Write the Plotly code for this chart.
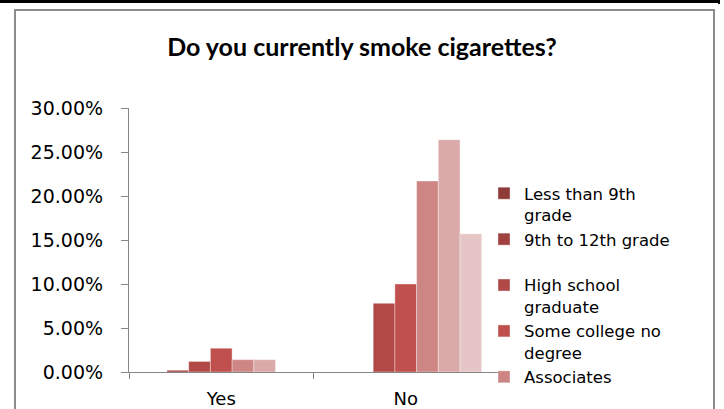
import plotly.graph_objects as go

# Survey responses by education level
categories = ["Yes", "No"]
series_names = [
    "Less than 9th grade",
    "9th to 12th grade",
    "High school graduate",
    "Some college no degree",
    "Associates",
    "Bachelors",
    "Graduate degree",
]
legend_labels = [
    "Less than 9th<br>grade",
    "9th to 12th grade<br> ",
    "High school<br>graduate",
    "Some college no<br>degree",
    "Associates<br> ",
    "Bachelors<br> ",
    "Graduate degree<br> ",
]
values = [
    [0.000, 0.000],
    [0.002, 0.000],
    [0.012, 0.078],
    [0.027, 0.100],
    [0.014, 0.217],
    [0.014, 0.264],
    [0.000, 0.157],
]
colors = ["#8E3B39", "#A2423F", "#B14A47", "#C0504D", "#CD8683", "#DAAAA9", "#E5C5C5"]
show_in_legend = [True, True, True, True, True, False, False]

W, H = 724, 409
L, R, T, B = 129, 498, 108, 372


def xp(px):
    return (px - L) / (R - L)


def yp(py):
    return (B - py) / (B - T)


fig = go.Figure()
for name, lab, vals, col, show in zip(series_names, legend_labels, values, colors, show_in_legend):
    fig.add_trace(go.Bar(
        x=categories, y=vals, name=lab, marker_color=col,
        marker_line=dict(width=0.6, color="rgba(255,255,255,0.6)"),
        showlegend=show, hovertext=name,
    ))

axis_col = "#868686"
fig.update_layout(
    width=W, height=H,
    margin=dict(l=L, r=W - R, t=T, b=H - B, autoexpand=False),
    paper_bgcolor="white", plot_bgcolor="white",
    barmode="group", bargap=1.5 / 8.5, bargroupgap=0,
    title=dict(text="<b>Do you currently smoke cigarettes?</b>",
               x=0.5, xanchor="center", y=1 - 47 / H, yanchor="middle",
               font=dict(family="Lato", size=25, color="black")),
    legend=dict(x=xp(484), xanchor="left", y=yp(176), yanchor="top",
                valign="top", maxheight=400,
                font=dict(family="DejaVu Sans", size=16.5, color="black"),
                bgcolor="rgba(0,0,0,0)", traceorder="normal"),
    xaxis=dict(type="category", showline=True, linecolor=axis_col, linewidth=1.3,
               ticks="outside", tickson="boundaries", ticklen=6, tickcolor=axis_col,
               ticklabelstandoff=10,
               tickfont=dict(family="DejaVu Sans", size=18, color="black"),
               showgrid=False, zeroline=False),
    yaxis=dict(range=[0, 0.30], dtick=0.05, tickformat=".2%", showline=True,
               linecolor=axis_col, linewidth=1.3, ticks="outside", ticklen=7,
               tickcolor=axis_col, ticklabelstandoff=14,
               tickfont=dict(family="DejaVu Sans", size=19, color="black"),
               showgrid=False, zeroline=False),
    shapes=[
        # outer chart frame
        dict(type="rect", xref="paper", yref="paper",
             x0=xp(15), x1=xp(714), y0=yp(430), y1=yp(10),
             line=dict(color="#8C8C8C", width=2), fillcolor="rgba(0,0,0,0)", layer="below"),
        # page border above the chart
        dict(type="line", xref="paper", yref="paper",
             x0=xp(0), x1=xp(720), y0=yp(1.5), y1=yp(1.5),
             line=dict(color="black", width=3)),
        dict(type="line", xref="paper", yref="paper",
             x0=xp(719), x1=xp(719), y0=yp(0), y1=yp(4),
             line=dict(color="black", width=2)),
    ],
)

fig.write_html("out.html")
